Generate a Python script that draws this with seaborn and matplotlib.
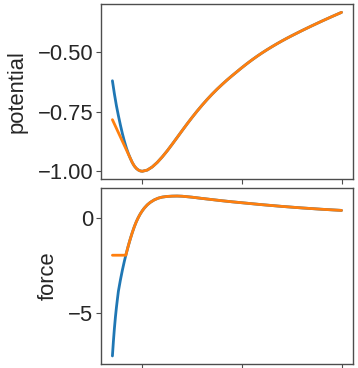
import matplotlib
matplotlib.use("Agg")
import matplotlib.pyplot as plt
import seaborn as sns

# distance grid for potential
x_pot = [0.70, 0.72, 0.74, 0.76, 0.78, 0.80, 0.82, 0.84, 0.86, 0.88, 0.90, 0.92,
         0.94, 0.96, 0.98, 1.00, 1.05, 1.10, 1.15, 1.20, 1.25, 1.30, 1.35, 1.40,
         1.45, 1.50, 1.55, 1.60, 1.65, 1.70, 1.75, 1.80, 1.85, 1.90, 1.95, 2.00,
         2.05, 2.10, 2.15, 2.20, 2.25, 2.30, 2.35, 2.40, 2.45, 2.50, 2.60, 2.70,
         2.80, 2.90, 3.00]
pot_exact = [-0.621, -0.676, -0.725, -0.767, -0.806, -0.842, -0.874, -0.902, -0.926,
             -0.946, -0.964, -0.978, -0.988, -0.9946, -0.9986, -1.000, -0.995,
             -0.9818, -0.963, -0.940, -0.9145, -0.8868, -0.8584, -0.8298, -0.8016,
             -0.7744, -0.7483, -0.7234, -0.6998, -0.6775, -0.6566, -0.6369, -0.6181,
             -0.6003, -0.5831, -0.566, -0.5496, -0.534, -0.5191, -0.505, -0.4916,
             -0.4788, -0.4665, -0.4547, -0.4434, -0.4325, -0.4115, -0.3913, -0.3718,
             -0.3529, -0.3346]
pot_clipped = [-0.784, -0.802, -0.820, -0.838, -0.856, -0.874, -0.892, -0.910, -0.928,
               -0.946, -0.964, -0.978, -0.988, -0.9946, -0.9986, -1.000, -0.995,
               -0.9818, -0.963, -0.940, -0.9145, -0.8868, -0.8584, -0.8298, -0.8016,
               -0.7744, -0.7483, -0.7234, -0.6998, -0.6775, -0.6566, -0.6369, -0.6181,
               -0.6003, -0.5831, -0.566, -0.5496, -0.534, -0.5191, -0.505, -0.4916,
               -0.4788, -0.4665, -0.4547, -0.4434, -0.4325, -0.4115, -0.3913, -0.3718,
               -0.3529, -0.3346]

# distance grid for force
x_force = [0.70, 0.71, 0.72, 0.73, 0.74, 0.75, 0.76, 0.78, 0.80, 0.82, 0.835, 0.84,
           0.86, 0.88, 0.90, 0.92, 0.94, 0.96, 0.98, 1.00, 1.02, 1.05, 1.08, 1.12,
           1.16, 1.20, 1.25, 1.30, 1.35, 1.40, 1.50, 1.60, 1.70, 1.80, 1.90, 2.00,
           2.20, 2.40, 2.60, 2.80, 3.00]
force_exact = [-7.22, -6.45, -5.78, -5.20, -4.70, -4.26, -3.84, -3.26, -2.74, -2.27,
               -1.955, -1.85, -1.46, -1.10, -0.77, -0.47, -0.21, 0.01, 0.20, 0.36,
               0.50, 0.67, 0.80, 0.93, 1.02, 1.075, 1.11, 1.125, 1.13, 1.12, 1.07,
               1.005, 0.945, 0.885, 0.83, 0.78, 0.68, 0.59, 0.51, 0.44, 0.38]
force_clipped = [-1.96, -1.96, -1.96, -1.96, -1.96, -1.96, -1.96, -1.96, -1.96, -1.96,
                 -1.96, -1.85, -1.46, -1.10, -0.77, -0.47, -0.21, 0.01, 0.20, 0.36,
                 0.50, 0.67, 0.80, 0.93, 1.02, 1.075, 1.11, 1.125, 1.13, 1.12, 1.07,
                 1.005, 0.945, 0.885, 0.83, 0.78, 0.68, 0.59, 0.51, 0.44, 0.38]

x_ticks = [1, 2, 3]
pot_ticks = [-1.00, -0.75, -0.50]
pot_tick_labels = ["\u22121.00", "\u22120.75", "\u22120.50"]
force_ticks = [-5, 0]
force_tick_labels = ["\u22125", "0"]

sns.set_style("ticks")
plt.rcParams["font.family"] = ["Liberation Sans", "DejaVu Sans"]
plt.rcParams["axes.unicode_minus"] = True

BLUE = "#1f77b4"
ORANGE = "#ff7f0e"
FS = 15.8

fig = plt.figure(figsize=(3.58, 3.68), dpi=100)
ax1 = fig.add_axes([0.282, 0.513, 0.704, 0.475])
ax2 = fig.add_axes([0.282, 0.011, 0.704, 0.478], sharex=ax1)

sns.lineplot(x=x_pot, y=pot_exact, ax=ax1, color=BLUE, lw=2)
sns.lineplot(x=x_pot, y=pot_clipped, ax=ax1, color=ORANGE, lw=2)
sns.lineplot(x=x_force, y=force_exact, ax=ax2, color=BLUE, lw=2)
sns.lineplot(x=x_force, y=force_clipped, ax=ax2, color=ORANGE, lw=2)

for ax in (ax1, ax2):
    for s in ax.spines.values():
        s.set_visible(True)
        s.set_color("0.3")
        s.set_linewidth(1.0)
    ax.set_xticks(x_ticks)
    ax.set_xticklabels([])
    ax.tick_params(length=3.5, width=0.8, color="0.3", labelsize=FS,
                   labelcolor="0.15", pad=2)
    ax.set_xlabel("")

ax1.set_yticks(pot_ticks)
ax1.set_yticklabels(pot_tick_labels)
ax2.set_yticks(force_ticks)
ax2.set_yticklabels(force_tick_labels)
ax1.set_ylabel("potential", fontsize=FS, color="0.15", labelpad=7)
ax2.set_ylabel("force", fontsize=FS, color="0.15", labelpad=7)
ax1.margins(x=0.05, y=0.05)
ax2.margins(x=0.05, y=0.05)

fig.savefig("out.png", dpi=100)
